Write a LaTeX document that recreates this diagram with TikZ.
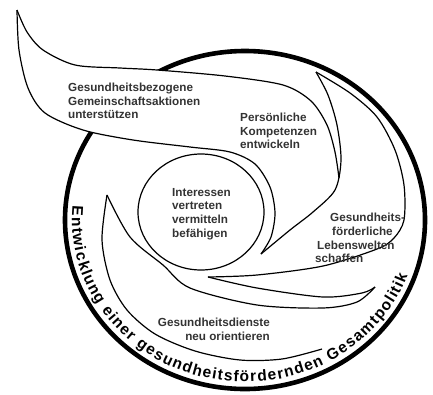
\documentclass[tikz,border=0pt]{standalone}
\usepackage{fontspec}
\setmainfont{Liberation Sans}
\usetikzlibrary{decorations.text}

\newcommand\ringfont{\bfseries\fontsize{15.5}{15.5}\selectfont}

\tikzset{
  ring/.style={line width=4.6pt},
  edge/.style={line width=1.2pt, line join=round},
  lbl/.style={font=\bfseries\fontsize{11.7}{13.6}\selectfont, text=black!80,
    inner sep=0pt, align=left}
}

\begin{document}
\begin{tikzpicture}[x=1pt,y=-1pt]
  \useasboundingbox (0,0) rectangle (433,394);

  % tips of the wings
  \coordinate (tipA) at (17,10);
  \coordinate (tipB) at (316,72);
  \coordinate (tipC) at (261,254);
  \coordinate (tipD) at (208,277);
  \coordinate (tipE) at (375,287);
  \coordinate (tipF) at (107,195);

  % outer ring
  \draw[ring] (245,220) ellipse[x radius=180pt, y radius=169pt];

  % flag covers the ring
  \fill[white] plot[smooth] coordinates {(17,10) (27,32) (43,50) (75,65) (120,68) (157,70) (225,76)}
     -- plot[smooth] coordinates {(230,152) (190,147) (133,140) (83,130) (45,113) (28,88) (19,50) (17,10)} -- cycle;

  % wings
  \draw[edge] plot[smooth] coordinates {(tipA) (27,32) (43,50) (75,65) (120,68) (157,70) (225,76)
     (283,85) (311,101) (327,125) (335,152) (339,178)};
  \draw[edge] plot[smooth] coordinates {(tipA) (19,50) (28,88) (45,113) (83,130) (133,140) (190,147)
     (230,152) (255,164) (270,187) (275,213) (271,237) (tipC)};
  \draw[edge] plot[smooth] coordinates {(tipB) (328,95) (337,125) (341,160) (335,190) (313,212)
     (290,230) (tipC)};
  \draw[edge] plot[smooth] coordinates {(tipB) (350,93) (377,117) (395,150) (404,185) (404,220)
     (394,238) (377,249) (323,266) (257,275) (tipD)};
  \draw[edge] plot[smooth] coordinates {(tipD) (257,288) (323,297) (362,293) (tipE)};
  \draw[edge] plot[smooth] coordinates {(tipE) (357,302) (323,308) (257,305) (190,288) (163,265)
     (130,237) (tipF)};
  \draw[edge] plot[smooth] coordinates {(tipF) (102,240) (110,280) (127,310) (155,334) (195,351)
     (240,360) (282,359) (322,349)};

  % centre
  \draw[edge] (201,212) ellipse[x radius=63pt, y radius=58pt];

  % labels
  \node[lbl, anchor=north west] (community) at (68,83)
    {Gesundheitsbezogene\\Gemeinschaftsaktionen\\unterstützen};
  \node[lbl, anchor=north west] (skills) at (240,113) {Persönliche\\Kompetenzen\\entwickeln};
  \node[lbl, anchor=north west] (advocacy) at (172,188)
    {Interessen\\vertreten\\vermitteln\\befähigen};
  \node[lbl, anchor=base west] (envA) at (330,221) {Gesundheits-};
  \node[lbl, anchor=base west] (envB) at (332,235) {förderliche};
  \node[lbl, anchor=base west] (envC) at (317,249) {Lebenswelten};
  \node[lbl, anchor=base west] (envD) at (315,262) {schaffen};
  \node[lbl, anchor=north east, align=right] (services) at (270,318)
    {Gesundheitsdienste\\neu orientieren};

  % ring text
  \path[decorate, decoration={text along path, text align={fit to path},
      text={|\ringfont|Entwicklung einer gesundheitsfördernden Gesamtpolitik}}]
    (72.66,205.88) arc[start angle=175, end angle=340, x radius=173pt, y radius=162pt];
\end{tikzpicture}
\end{document}
